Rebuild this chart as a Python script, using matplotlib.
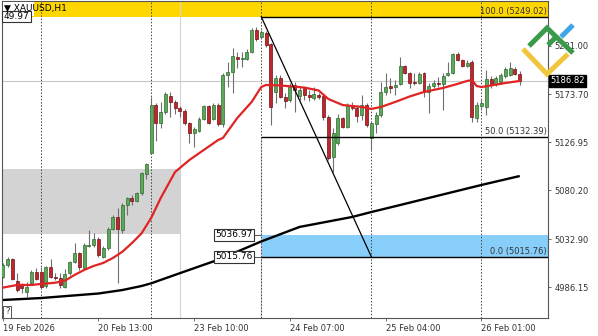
import numpy as np
import matplotlib
matplotlib.use("Agg")
import matplotlib.pyplot as plt
from matplotlib.lines import Line2D
from matplotlib.patches import Rectangle

# XAUUSD H1, first bar 19 Feb 16:00
opens = [4996.1, 5007.7, 5013.6, 4992.2, 4988.3, 4981.5, 4990.2, 5000.9, 5000.9, 4987.3,
         5005.8, 4996.1, 4995.1, 4986.3, 4999.9, 5010.6, 5019.4, 5004.8, 5026.2, 5027.2,
         5033.0, 5015.5, 5024.2, 5042.7, 5054.4, 5041.7, 5066.0, 5072.8, 5069.9, 5077.7,
         5096.2, 5116.6, 5163.2, 5145.7, 5156.4, 5172.0, 5166.2, 5160.3, 5157.4, 5145.7,
         5136.0, 5138.0, 5149.6, 5162.3, 5149.6, 5163.2, 5144.8, 5192.4, 5195.3, 5209.9,
         5208.0, 5208.0, 5214.8, 5236.1, 5229.3, 5233.2, 5222.5, 5175.9, 5189.5, 5171.0,
         5168.1, 5182.7, 5172.0, 5179.8, 5173.0, 5170.0, 5173.0, 5172.0, 5151.6, 5112.7,
         5126.3, 5150.6, 5141.9, 5163.2, 5160.3, 5153.5, 5163.2, 5131.2, 5144.8, 5153.5,
         5175.9, 5181.7, 5180.7, 5183.7, 5201.2, 5194.3, 5185.6, 5184.6, 5194.3, 5175.9,
         5181.7, 5184.6, 5183.7, 5192.4, 5194.3, 5212.8, 5207.0, 5201.2, 5205.0, 5150.6,
         5162.3, 5161.3, 5188.5, 5183.7, 5185.6, 5191.4, 5192.4, 5198.2, 5193.4]
highs = [5009.7, 5015.5, 5014.5, 4999.9, 4990.2, 4991.2, 5002.9, 5004.8, 5005.8, 5006.8,
         5013.6, 4999.9, 4999.9, 5003.8, 5011.6, 5029.1, 5020.4, 5029.1, 5041.7, 5038.8,
         5034.9, 5026.2, 5044.7, 5056.3, 5063.1, 5068.0, 5073.8, 5075.8, 5078.7, 5098.1,
         5106.9, 5171.0, 5165.2, 5166.2, 5175.9, 5175.9, 5168.1, 5162.3, 5159.4, 5146.7,
         5141.9, 5151.6, 5163.2, 5163.2, 5165.2, 5165.2, 5194.3, 5205.0, 5218.6, 5214.8,
         5214.8, 5217.7, 5238.1, 5239.1, 5236.1, 5235.2, 5223.5, 5192.4, 5192.4, 5174.9,
         5184.6, 5185.6, 5180.7, 5180.7, 5177.8, 5180.7, 5174.9, 5173.0, 5153.5, 5140.9,
         5154.5, 5151.6, 5165.2, 5166.2, 5163.2, 5173.0, 5165.2, 5146.7, 5156.4, 5185.6,
         5194.3, 5189.5, 5187.5, 5209.9, 5202.1, 5195.3, 5194.3, 5195.3, 5195.3, 5184.6,
         5187.5, 5190.5, 5194.3, 5205.0, 5213.8, 5214.8, 5208.0, 5207.0, 5207.0, 5166.2,
         5169.1, 5197.3, 5191.4, 5191.4, 5194.3, 5200.2, 5205.0, 5200.2, 5196.3]
lows = [4995.1, 5005.8, 4993.1, 4981.5, 4980.5, 4976.6, 4988.3, 4993.1, 4985.4, 4985.4,
        4995.1, 4993.1, 4985.4, 4985.4, 4998.0, 5009.7, 5002.9, 5002.9, 5025.2, 5025.2,
        5015.5, 5014.5, 5022.3, 5041.7, 4990.2, 5038.8, 5056.3, 5066.0, 5069.0, 5075.8,
        5091.3, 5115.6, 5128.2, 5140.9, 5154.5, 5151.6, 5154.5, 5151.6, 5143.8, 5126.3,
        5122.4, 5137.0, 5148.7, 5144.8, 5148.7, 5142.8, 5141.9, 5180.7, 5174.9, 5199.2,
        5200.2, 5207.0, 5213.8, 5225.5, 5228.4, 5219.6, 5143.8, 5165.2, 5170.0, 5160.3,
        5166.2, 5156.4, 5168.1, 5168.1, 5167.1, 5168.1, 5169.1, 5148.7, 5109.8, 5098.1,
        5124.4, 5140.9, 5140.9, 5158.4, 5146.7, 5148.7, 5141.9, 5119.5, 5136.0, 5151.6,
        5173.0, 5174.9, 5173.0, 5182.7, 5193.4, 5179.8, 5182.7, 5183.7, 5171.0, 5155.5,
        5179.8, 5180.7, 5158.4, 5191.4, 5193.4, 5206.0, 5200.2, 5200.2, 5146.7, 5146.7,
        5158.4, 5153.5, 5179.8, 5181.7, 5183.7, 5189.5, 5191.4, 5192.4, 5182.7]
closes = [5007.7, 5013.6, 4994.1, 4983.4, 4985.4, 4986.3, 5000.9, 4994.1, 4986.3, 5005.8,
          4996.1, 4995.1, 4988.3, 4999.0, 5010.6, 5019.4, 5005.8, 5027.2, 5027.2, 5033.0,
          5017.4, 5024.2, 5042.7, 5054.4, 5042.7, 5066.0, 5072.8, 5069.9, 5077.7, 5097.1,
          5105.9, 5163.2, 5145.7, 5156.4, 5173.9, 5166.2, 5160.3, 5157.4, 5145.7, 5136.0,
          5139.9, 5149.6, 5162.3, 5145.7, 5163.2, 5144.8, 5192.4, 5195.3, 5210.9, 5208.0,
          5208.9, 5214.8, 5236.1, 5227.4, 5234.2, 5221.6, 5161.3, 5189.5, 5171.0, 5167.1,
          5180.7, 5177.8, 5177.8, 5173.0, 5171.0, 5173.9, 5171.0, 5151.6, 5111.7, 5136.0,
          5150.6, 5141.9, 5163.2, 5160.3, 5152.6, 5163.2, 5143.8, 5145.7, 5153.5, 5175.9,
          5180.7, 5179.8, 5182.7, 5201.2, 5194.3, 5184.6, 5184.6, 5193.4, 5175.9, 5181.7,
          5184.6, 5183.7, 5191.4, 5194.3, 5212.8, 5207.0, 5201.2, 5204.1, 5151.6, 5163.2,
          5165.2, 5188.5, 5182.7, 5189.5, 5192.4, 5198.2, 5199.2, 5193.4, 5186.8]

# moving averages (bar index, price)
ema_bars = [0, 3, 6, 8, 11, 13, 15, 17, 19, 21, 23, 25, 27, 29, 31, 33, 36, 39, 42, 45,
            46, 49, 52, 54, 55, 58, 63, 66, 68, 71, 75, 77, 79, 82, 85, 88, 92, 95, 97, 98,
            99, 100, 102, 105, 108]
ema_vals = [4985.7, 4988.3, 4988.3, 4989.3, 4990.5, 4992.5, 4998.0, 5002.9, 5006.8, 5009.7,
            5014.5, 5020.6, 5029.1, 5038.5, 5053.4, 5072.8, 5098.1, 5109.8, 5119.5, 5129.2,
            5131.2, 5150.6, 5166.2, 5180.7, 5182.7, 5182.2, 5180.2, 5177.3, 5169.1, 5163.2,
            5161.3, 5159.4, 5161.3, 5166.2, 5171.5, 5175.9, 5179.8, 5183.7, 5186.6, 5187.5,
            5181.7, 5180.7, 5182.2, 5184.6, 5186.6]
ma_bars = [0, 8, 20, 25, 29, 31, 38, 45, 54, 62, 73, 77, 83, 100, 108]
ma_vals = [4973.7, 4975.6, 4980.0, 4983.4, 4987.3, 4989.9, 5001.4, 5012.8, 5030.6, 5044.7,
           5054.4, 5059.2, 5066.0, 5085.5, 5094.2]

price_ticks = [5221.00, 5173.70, 5126.95, 5080.20, 5032.90, 4986.15]
time_ticks = [0, 20, 40, 60, 80, 100]
time_labels = ["19 Feb 2026", "20 Feb 13:00", "23 Feb 10:00", "24 Feb 07:00",
               "25 Feb 04:00", "26 Feb 01:00"]
day_starts = [8, 31, 54, 77, 100]

fib_start, fib_end = 54, 77
fib_high, fib_mid, fib_low = 5249.02, 5132.39, 5015.76
zone_top = 5036.97
gray_zone = (5037.4, 5101.0, 37)
bid = 5186.82

W, H = 598, 336
XMIN, XMAX = -0.15, 113.9
YMIN, YMAX = 4956.2, 5264.3

plt.rcParams["font.family"] = ["DejaVu Sans"]
fig = plt.figure(figsize=(W / 100, H / 100), dpi=100)
ax = fig.add_axes([2 / W, 18 / H, 546 / W, 317 / H])
ax.set_xlim(XMIN, XMAX)
ax.set_ylim(YMIN, YMAX)

# background objects
ax.axhspan(fib_high, YMAX, color="#ffd700", lw=0, zorder=0)
ax.fill_between([XMIN, gray_zone[2]], gray_zone[0], gray_zone[1], color="#d3d3d3", lw=0, zorder=0)
ax.fill_between([fib_start, XMAX], fib_low, zone_top, color="#87cefa", lw=0, zorder=0)
ax.axvline(gray_zone[2], color="#d4d4d4", lw=0.8, zorder=0.5)
ax.vlines(fib_start, YMIN, fib_mid, color="#b8c8d8", lw=0.9, zorder=0.6)
for d in day_starts:
    ax.axvline(d, color="#444444", lw=0.7, ls=(0, (1.5, 1.8)), zorder=1)
ax.axhline(bid, color="#c8c8c8", lw=0.8, zorder=0.7)

# moving averages
ax.plot(ma_bars, ma_vals, color="black", lw=1.7, zorder=2, solid_capstyle="butt")

# candles
x = np.arange(len(opens))
o, h, l, c = (np.array(a) for a in (opens, highs, lows, closes))
up = c >= o
ax.vlines(x, l, h, color="#6f6f6f", lw=0.8, zorder=3)
lo = np.minimum(o, c)
bh = np.maximum(np.abs(c - o), 1.0)
ax.bar(x[up], bh[up], bottom=lo[up], width=0.62, color="#5aa85a",
       edgecolor="#2f6a2f", lw=0.5, zorder=4)
ax.bar(x[~up], bh[~up], bottom=lo[~up], width=0.62, color="#c0262d",
       edgecolor="#6e1015", lw=0.5, zorder=4)

ax.plot(ema_bars, ema_vals, color="#e02424", lw=1.6, zorder=5)

# fibonacci
for lv in (fib_high, fib_mid, fib_low):
    ax.hlines(lv, fib_start, XMAX, color="black", lw=1.0, zorder=6)
ax.plot([fib_start, fib_end], [fib_high, fib_low], color="black", lw=0.9, zorder=6)
fkw = dict(ha="right", va="bottom", fontsize=6, color="#333333", zorder=7)
ax.text(XMAX - 0.3, fib_high + 1.0, "100.0 (5249.02)", **fkw)
ax.text(XMAX - 0.3, fib_mid + 1.0, "50.0 (5132.39)", **fkw)
ax.text(XMAX - 0.3, fib_low + 1.0, "0.0 (5015.76)", **fkw)

bkw = dict(ha="right", va="center", fontsize=6.5, color="black", zorder=7,
           bbox=dict(boxstyle="square,pad=0.15", fc="white", ec="#333333", lw=0.8))
ax.text(52.2, zone_top, "5036.97", **bkw)
ax.text(52.2, fib_low, "5015.76", **bkw)
ax.hlines([zone_top, fib_low], 52.5, fib_start, color="#333333", lw=0.6, zorder=6)

# axes styling
for s in ax.spines.values():
    s.set_color("#555555")
    s.set_linewidth(0.8)
ax.yaxis.tick_right()
ax.set_yticks(price_ticks)
ax.set_yticklabels([f"{v:.2f}" for v in price_ticks])
ax.set_xticks(time_ticks)
ax.set_xticklabels(time_labels)
for t in ax.get_xticklabels():
    t.set_ha("left")
ax.tick_params(axis="y", length=2.5, width=0.6, pad=2, labelsize=6, colors="#555555",
               labelcolor="#333333")
ax.tick_params(axis="x", length=2.5, width=0.6, pad=1.5, labelsize=6, colors="#555555",
               labelcolor="#333333")

ax.text(1.004, bid, "5186.82", transform=ax.get_yaxis_transform(), ha="left", va="center",
        fontsize=6, color="white", zorder=8,
        bbox=dict(boxstyle="square,pad=0.2", fc="black", ec="black"))

# corner labels
def fx(px):
    return px / W

def fy(py):
    return 1 - py / H

fig.add_artist(Rectangle((fx(2.5), fy(15.5)), fx(31), 14 / H, fc="white", ec="none",
                         transform=fig.transFigure, zorder=1))
fig.text(fx(3.5), fy(16.5), "49.97", fontsize=6.5, va="center", ha="left", color="black",
         zorder=2, bbox=dict(boxstyle="square,pad=0.15", fc="white", ec="#333333", lw=0.8))
fig.text(fx(4), fy(8.5), "\u25bc XAUUSD,H1", fontsize=6.5, va="center", ha="left",
         color="black", zorder=3)
fig.text(fx(5), fy(312), "?", fontsize=6, va="center", ha="left", color="#333333",
         bbox=dict(boxstyle="square,pad=0.2", fc="white", ec="#555555", lw=0.7))

# logo
def logo(pts, col):
    xs = [fx(p[0]) for p in pts]
    ys = [fy(p[1]) for p in pts]
    fig.add_artist(Line2D(xs, ys, color=col, lw=3.6, solid_capstyle="butt",
                          solid_joinstyle="miter", transform=fig.transFigure, zorder=4))

logo([(523, 49), (547, 74), (568, 54)], "#f0c63c")
logo([(529, 46), (547, 28), (573, 53)], "#3a9a4a")
logo([(548, 45), (557, 36)], "#3a9a4a")
logo([(561, 37), (573, 25)], "#3ea6e6")

fig.savefig("out.png", dpi=100, facecolor="white")
